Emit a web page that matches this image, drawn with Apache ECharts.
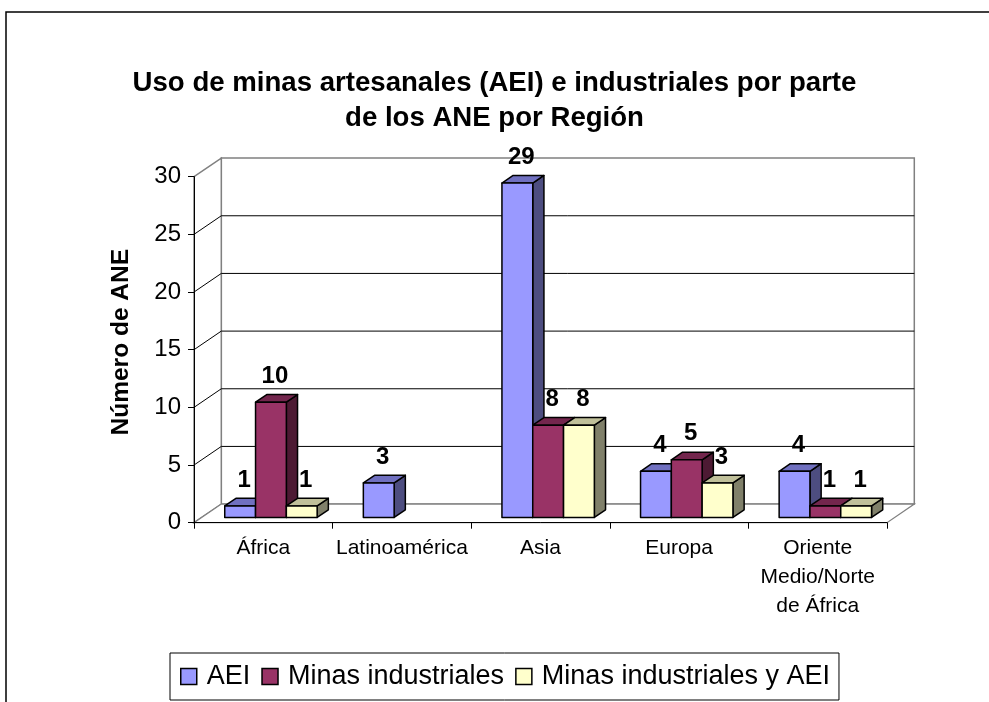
<!DOCTYPE html>
<html>
<head>
<meta charset="utf-8">
<script src="https://cdn.jsdelivr.net/npm/echarts@6/dist/echarts.min.js"></script>
<style>html,body{margin:0;padding:0;background:#fff;}#chart{width:989px;height:702px;}</style>
</head>
<body>
<div id="chart"></div>
<script>
const categories = ['África', 'Latinoamérica', 'Asia', 'Europa', 'Oriente\nMedio/Norte\nde África'];
const seriesNames = ['AEI', 'Minas industriales', 'Minas industriales y AEI'];
const aei = [1, 3, 29, 4, 4];
const minasIndustriales = [10, null, 8, 5, 1];
const minasIndustrialesYAei = [1, null, 8, 3, 1];
const yTicks = [0, 5, 10, 15, 20, 25, 30];

const FONT = "'Liberation Sans', Arial, sans-serif";
const DX = 27.3, DY = -18.6;   // oblique depth of the plot box
const K0 = 0.28, K1 = 0.69;    // bar depth range (fraction of box depth)

const palette = [
  { front: '#9999FF', top: '#7070C0', side: '#4D4D80' },
  { front: '#993366', top: '#73264D', side: '#4D1A33' },
  { front: '#FFFFCC', top: '#C0C09A', side: '#80806A' }
];
const valueArrays = [aei, minasIndustriales, minasIndustrialesYAei];

function wallsRender(params, api) {
  const band = api.size([1, 0])[0];
  const n = categories.length;
  const xl = api.coord([0, 0])[0] - band / 2;
  const xr = api.coord([n - 1, 0])[0] + band / 2;
  const y0 = api.coord([0, yTicks[0]])[1];
  const yT = api.coord([0, yTicks[yTicks.length - 1]])[1];
  const gray = '#808080';
  const children = [];
  children.push({ type: 'polygon', shape: { points: [[xl + DX, yT + DY], [xr + DX, yT + DY], [xr + DX, y0 + DY], [xl + DX, y0 + DY]] },
    style: { fill: '#fff', stroke: gray, lineWidth: 1.5 } });
  children.push({ type: 'polygon', shape: { points: [[xl, y0], [xl, yT], [xl + DX, yT + DY], [xl + DX, y0 + DY]] },
    style: { fill: '#fff', stroke: gray, lineWidth: 1.5 } });
  children.push({ type: 'polygon', shape: { points: [[xl, y0], [xr, y0], [xr + DX, y0 + DY], [xl + DX, y0 + DY]] },
    style: { fill: '#fff', stroke: gray, lineWidth: 1.2 } });
  for (let i = 1; i < yTicks.length - 1; i++) {
    const y = api.coord([0, yTicks[i]])[1];
    children.push({ type: 'line', shape: { x1: xl + DX, y1: y + DY, x2: xr + DX, y2: y + DY }, style: { stroke: '#000', lineWidth: 1 } });
    children.push({ type: 'line', shape: { x1: xl, y1: y, x2: xl + DX, y2: y + DY }, style: { stroke: '#000', lineWidth: 1 } });
  }
  return { type: 'group', children: children };
}

function makeBarRender(si) {
  return function (params, api) {
    const ci = api.value(0);
    const v = api.value(1);
    if (v == null || isNaN(v)) return;
    const c0 = api.coord([ci, 0]);
    const cv = api.coord([ci, v]);
    const band = api.size([1, 0])[0];
    const w = band / 4.5;
    const x = c0[0] - 1.5 * w + si * w + K0 * DX;
    const yb = c0[1] + K0 * DY;
    const yt = cv[1] + K0 * DY;
    const ddx = (K1 - K0) * DX, ddy = (K1 - K0) * DY;
    const col = palette[si];
    const st = { stroke: '#000', lineWidth: 1.5, lineJoin: 'round' };
    return {
      type: 'group',
      children: [
        { type: 'polygon', shape: { points: [[x + w, yt], [x + w, yb], [x + w + ddx, yb + ddy], [x + w + ddx, yt + ddy]] },
          style: Object.assign({ fill: col.side }, st) },
        { type: 'polygon', shape: { points: [[x, yt], [x + w, yt], [x + w + ddx, yt + ddy], [x + ddx, yt + ddy]] },
          style: Object.assign({ fill: col.top }, st) },
        { type: 'rect', shape: { x: x, y: yt, width: w, height: yb - yt },
          style: Object.assign({ fill: col.front }, st) },
        { type: 'text', x: x + w / 2 + 4, y: yt - 26,
          style: { text: String(v), fill: '#000', font: 'bold 24px ' + FONT, align: 'center', verticalAlign: 'middle' } }
      ]
    };
  };
}

const series = [{
  name: 'walls', type: 'custom', coordinateSystem: 'cartesian2d', z: 1, silent: true,
  renderItem: wallsRender, data: [[0, 0]], clip: false
}];
seriesNames.forEach(function (name, si) {
  series.push({
    name: name, type: 'custom', coordinateSystem: 'cartesian2d', z: 3, clip: false,
    itemStyle: { color: palette[si].front, borderColor: '#000', borderWidth: 1.5 },
    renderItem: makeBarRender(si),
    data: valueArrays[si].map(function (val, ci) { return [ci, val == null ? NaN : val]; })
  });
});

const chart = echarts.init(document.getElementById('chart'), null, { renderer: 'canvas' });
chart.setOption({
  backgroundColor: '#fff',
  animation: false,
  title: {
    text: 'Uso de minas artesanales (AEI) e industriales por parte\nde los ANE por Región',
    left: 'center', top: 66, padding: 0,
    textStyle: { fontFamily: FONT, fontSize: 27.6, fontWeight: 'bold', color: '#000', lineHeight: 35, align: 'center' }
  },
  graphic: [{
    type: 'rect', z: -10, silent: true,
    shape: { x: 6, y: 12, width: 1100, height: 800 },
    style: { fill: 'none', stroke: '#000', lineWidth: 1.5 }
  }],
  legend: {
    data: seriesNames,
    left: 170, top: 653,
    orient: 'horizontal',
    icon: 'rect', itemWidth: 16, itemHeight: 16, itemGap: 11,
    itemStyle: { borderColor: '#000', borderWidth: 1.5 },
    borderColor: '#000', borderWidth: 1,
    padding: [10, 9, 10, 10],
    textStyle: { fontFamily: FONT, fontSize: 27, color: '#000', padding: [0, 0, 0, 5] }
  },
  grid: { left: 194, right: 102, top: 176.7, bottom: 179.3 },
  xAxis: {
    type: 'category', data: categories, z: 10,
    axisLine: { lineStyle: { color: '#000', width: 1 } },
    axisTick: { show: true, length: 6, lineStyle: { color: '#000' } },
    axisLabel: { fontFamily: FONT, fontSize: 21, color: '#000', lineHeight: 29, margin: 11, interval: 0 },
    splitLine: { show: false }
  },
  yAxis: {
    type: 'value', min: 0, max: 30, interval: 5, z: 10,
    name: 'Número de ANE', nameLocation: 'middle', nameRotate: 90, nameGap: 60,
    nameTextStyle: { fontFamily: FONT, fontSize: 24.5, fontWeight: 'bold', color: '#000', padding: [0, 0, 0, 15] },
    axisLine: { show: true, lineStyle: { color: '#000', width: 1 } },
    axisTick: { show: true, length: 6, lineStyle: { color: '#000' } },
    axisLabel: { fontFamily: FONT, fontSize: 24, color: '#000', margin: 13 },
    splitLine: { show: false }
  },
  series: series
});
</script>
</body>
</html>
